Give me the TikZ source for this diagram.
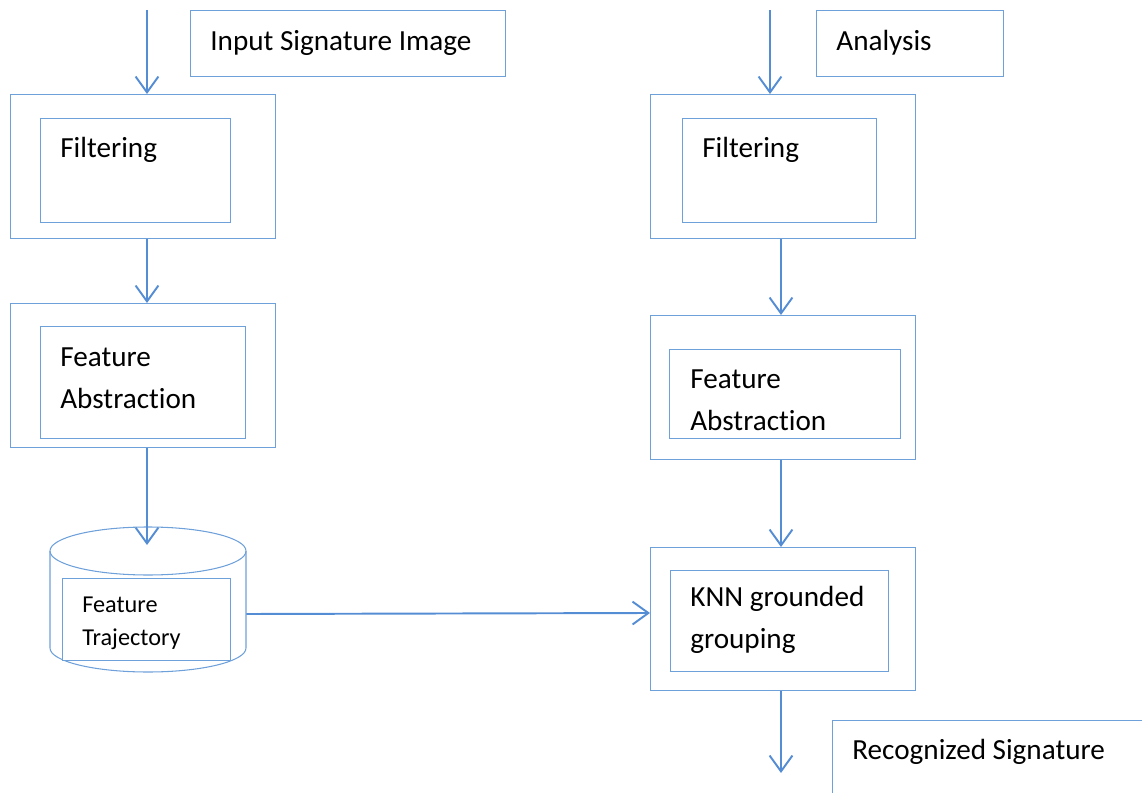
\documentclass[tikz,border=0pt]{standalone}
\usepackage{fontspec}
\setmainfont{Carlito}[Ligatures=NoCommon]
\usetikzlibrary{arrows.meta}
\definecolor{boxblue}{RGB}{110,160,218}
\definecolor{arrowblue}{RGB}{84,141,212}
\tikzset{
    outerbox/.style={draw=boxblue, line width=0.6pt, rectangle, anchor=north west, inner sep=0pt}, % 外框
    innerbox/.style={draw=boxblue, line width=0.6pt, rectangle, anchor=north west, inner sep=0pt}, % 内框
    txt/.style={anchor=west, inner sep=0pt, align=left, font=\fontsize{16.6}{24}\selectfont}, % 框内文字
    flow/.style={draw=arrowblue, line width=1.1pt, -{Straight Barb[length=9pt, width=13pt, line width=1.1pt]}} % 流程箭头
}

\begin{document}
\begin{tikzpicture}[x=0.02cm, y=-0.02cm]
    \clip (0,0) rectangle (1142,793);
    \useasboundingbox (0,0) rectangle (1142,793);

    % left column
    \coordinate (inL) at (147,10);
    \node[outerbox, minimum width=6.3cm, minimum height=1.32cm] (input) at (190,10) {};
    \node[txt] at (210,43) {Input Signature Image};

    \node[outerbox, minimum width=5.3cm, minimum height=2.88cm] (filtL) at (10,94) {};
    \node[innerbox, minimum width=3.8cm, minimum height=2.08cm] (filtLin) at (40,118) {};
    \node[txt] at (60,150) {Filtering};

    \node[outerbox, minimum width=5.3cm, minimum height=2.88cm] (featL) at (10,303) {};
    \node[innerbox, minimum width=4.1cm, minimum height=2.24cm] (featLin) at (40,326) {};
    \node[txt] at (60,378) {Feature\\Abstraction};

    % database drum
    \node[minimum width=3.92cm, minimum height=2.9cm, inner sep=0pt] (traj) at (148,599.5) {};
    \draw[boxblue, line width=0.6pt] (148,551) ellipse[x radius=98, y radius=24];
    \draw[boxblue, line width=0.6pt] (50,551) -- (50,648) arc[start angle=180, end angle=0, x radius=98, y radius=24] -- (246,551);
    \node[innerbox, fill=white, minimum width=3.36cm, minimum height=1.64cm] (trajin) at (62,578) {};
    \node[txt, font=\fontsize{13.8}{19}\selectfont] at (82,623) {Feature\\Trajectory};
    \coordinate (trajtop) at (147,545);

    % right column
    \coordinate (inR) at (770,10);
    \node[outerbox, minimum width=3.74cm, minimum height=1.32cm] (analysis) at (816,10) {};
    \node[txt] at (836,43) {Analysis};

    \node[outerbox, minimum width=5.3cm, minimum height=2.88cm] (filtR) at (650,94) {};
    \node[innerbox, minimum width=3.88cm, minimum height=2.08cm] (filtRin) at (682,118) {};
    \node[txt] at (702,150) {Filtering};

    \node[outerbox, minimum width=5.3cm, minimum height=2.88cm] (featR) at (650,315) {};
    \node[innerbox, minimum width=4.62cm, minimum height=1.78cm] (featRin) at (669,349) {};
    \node[txt] at (690,400) {Feature\\Abstraction};

    \node[outerbox, minimum width=5.3cm, minimum height=2.86cm] (knn) at (650,547) {};
    \node[innerbox, minimum width=4.36cm, minimum height=2.02cm] (knnin) at (670,570) {};
    \node[txt] at (690,620) {KNN grounded\\grouping};

    \coordinate (outR) at (781,773);
    \node[outerbox, minimum width=7cm, minimum height=2.4cm] (recog) at (832,720) {};
    \node[txt] at (852,752) {Recognized Signature};

    % arrows
    \draw[flow] (inL) -- (inL |- filtL.north);
    \draw[flow] (filtL.south -| inL) -- (inL |- featL.north);
    \draw[flow] (featL.south -| inL) -- (trajtop);
    \draw[flow] (traj.east |- 0,614) -- (knn.west |- 0,613);
    \draw[flow] (inR) -- (inR |- filtR.north);
    \draw[flow] (filtR.south -| outR) -- (outR |- featR.north);
    \draw[flow] (featR.south -| outR) -- (outR |- knn.north);
    \draw[flow] (knn.south -| outR) -- (outR);
\end{tikzpicture}
\end{document}
